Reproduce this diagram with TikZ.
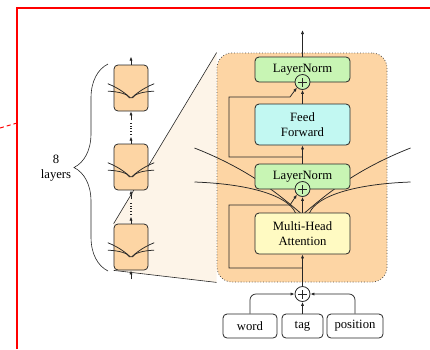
\documentclass[tikz,border=0pt]{standalone}
\usepackage{fontspec}
\setmainfont{Liberation Serif}
\usetikzlibrary{arrows.meta,decorations.pathreplacing,calc}

\definecolor{blockfill}{HTML}{FDD5A4}
\definecolor{conefill}{HTML}{FDF4E8}
\definecolor{lngreen}{HTML}{C8F5B4}
\definecolor{ffcyan}{HTML}{C2F8F2}
\definecolor{mhayellow}{HTML}{FFFAC2}
\definecolor{ink}{HTML}{262626}

\pgfdeclarelayer{background}
\pgfsetlayers{background,main}

\tikzset{
  wire/.style={draw=ink, line width=0.75pt},
  arr/.style={wire, -{Latex[length=4pt,width=3.2pt]}},
  box/.style={draw=ink, line width=0.8pt, rounded corners=4pt, align=center,
              inner sep=0pt, minimum width=95pt},
  ln/.style={box, fill=lngreen, minimum height=25pt},
  ffn/.style={box, fill=ffcyan, minimum height=41pt},
  attn/.style={box, fill=mhayellow, minimum height=41pt},
  inp/.style={box, fill=white, minimum height=24pt},
  cell/.style={draw=ink, line width=0.75pt, fill=blockfill, rounded corners=4pt,
               minimum width=34pt, minimum height=46pt, inner sep=0pt},
  plus/.style={circle, draw=ink, line width=0.8pt, minimum size=15pt, inner sep=0pt,
    path picture={
      \draw[line width=0.9pt]
        ($(path picture bounding box.center)+(-4.5pt,0pt)$) -- ++(9pt,0pt)
        ($(path picture bounding box.center)+(0pt,-4.5pt)$) -- ++(0pt,9pt);}},
  % attention fan: two strands on each side meeting at one point
  wings/.pic={
    \draw[wire] (-7,0) .. controls (-14,-17) and (-52,-29) .. (-108,-31);
    \draw[wire] (-2,0) .. controls (-22,-17) and (-52,-43) .. (-108,-65);
    \draw[wire] (7,0) .. controls (14,-17) and (52,-29) .. (108,-31);
    \draw[wire] (2,0) .. controls (22,-17) and (52,-43) .. (108,-65);
  }
}

\begin{document}
\begin{tikzpicture}[x=1pt,y=-1pt,font=\fontsize{12.7}{15}\selectfont]
\useasboundingbox (0,0) rectangle (430,349);

% frame
\draw[red, line width=1.6pt] (17,349) -- (17,8) -- (430,8);
\draw[red, line width=1pt, dash pattern=on 4pt off 3pt] (0,128) -- (17,123);

% enlarged encoder block
\node[draw=ink!80, dotted, line width=0.8pt, fill=blockfill, rounded corners=15pt,
      minimum width=170pt, minimum height=229pt, inner sep=0pt] (blk) at (302,167.5) {};

% stack of layers
\node[cell] (c1) at (131,88) {};
\node[cell] (c2) at (131,167) {};
\node[cell] (c3) at (131,247) {};
\foreach \c in {c1,c2,c3}
  \path ($(\c.center)+(0,10)$) pic[xscale=0.215,yscale=0.22] {wings};

\begin{pgfonlayer}{background}
  \fill[conefill] (c3.north west) -- (blk.north west) -- (blk.south west) -- (c3.south west) -- cycle;
  \draw[wire, line width=0.6pt] (c3.north west) -- (blk.north west);
  \draw[wire, line width=0.6pt] (c3.south west) -- (blk.south west);
\end{pgfonlayer}

\draw[arr] (c1.north) -- ++(0,-8);
\draw[arr] ($(c3.south)+(0,9)$) -- (c3.south);
\draw[arr] (c2.north) -- ++(0,-7);
\draw[wire, dotted, line width=1.1pt] ($(c2.north)+(0,-9)$) -- ($(c1.south)+(0,11)$);
\draw[arr] ($(c1.south)+(0,9)$) -- (c1.south);
\draw[arr] (c3.north) -- ++(0,-7);
\draw[wire, dotted, line width=1.1pt] ($(c3.north)+(0,-9)$) -- ($(c2.south)+(0,11)$);
\draw[arr] ($(c2.south)+(0,9)$) -- (c2.south);

\draw[decorate, decoration={brace, amplitude=34pt}, wire, line width=0.6pt] (108,271) -- (108,64);
\node[align=center] (lbl) at (56,168) {8\\layers};

% attention fan inside the block
\path (302.5,213) pic {wings};

% sublayers
\node[ln] (ln1) at (302.5,69.5) {LayerNorm};
\node[ffn] (ff) at (302.5,124.5) {Feed\\Forward};
\node[ln] (ln2) at (302.5,176.5) {LayerNorm};
\node[attn] (mha) at (302.5,233.5) {Multi-Head\\Attention};
\node[plus, fill=lngreen] (p1) at (302.5,82) {};
\node[plus, fill=lngreen] (p2) at (302.5,189) {};
\node[plus, fill=white] (p0) at (302.5,294) {};

% inputs
\node[inp, minimum width=54pt] (word) at (250,326) {word};
\node[inp, minimum width=41pt] (tag) at (302.5,326) {tag};
\node[inp, minimum width=56pt] (pos) at (355,326) {position};

\coordinate (out) at (302.5,30);
\coordinate (r1) at (302.5,157);
\coordinate (r2) at (302.5,268);

% main flow
\draw[arr, rounded corners=6pt] (word.north) |- (p0.west);
\draw[arr, rounded corners=6pt] (pos.north) |- (p0.east);
\draw[arr] (tag.north) -- (p0.south);
\draw[arr] (p0.north) -- (mha.south);
\draw[arr] (mha.north) -- (p2.south);
\draw[arr] (ln2.north) -- (ff.south);
\draw[arr] (ff.north) -- (p1.south);
\draw[arr] (ln1.north) -- (out);

% residual connections
\draw[arr] (r2) -- (229,268) -- (229,205) -- (290,205) -- (p2.south west);
\draw[arr] (r1) -- (229,157) -- (229,97) -- (290,97) -- (p1.south west);
\end{tikzpicture}
\end{document}
